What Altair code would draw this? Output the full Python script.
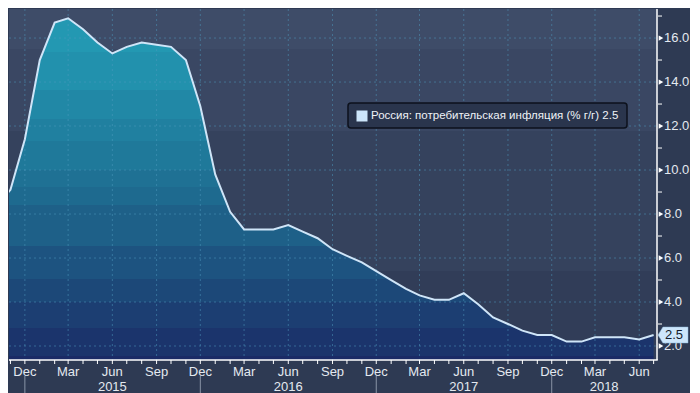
import altair as alt
import pandas as pd

# ---------------- data ----------------
months = [d.strftime("%Y-%m-%dT00:00:00") for d in pd.date_range("2014-10-01", "2018-07-01", freq="MS")]
cpi = [8.3, 9.1, 11.4,
       15.0, 16.7, 16.9, 16.4, 15.8, 15.3, 15.6, 15.8, 15.7, 15.6, 15.0, 12.9,
       9.8, 8.1, 7.3, 7.3, 7.3, 7.5, 7.2, 6.9, 6.4, 6.1, 5.8, 5.4,
       5.0, 4.6, 4.3, 4.1, 4.1, 4.4, 3.9, 3.3, 3.0, 2.7, 2.5, 2.5,
       2.2, 2.2, 2.4, 2.4, 2.4, 2.3, 2.5]
series_name = "Россия: потребительская инфляция (% г/г)"
y_ticks = [2, 4, 6, 8, 10, 12, 14, 16]
y_minor = [3, 5, 7, 9, 11, 13, 15, 17]
tick_months = months[1:]
quarter_dates = [d.strftime("%Y-%m-%dT00:00:00") for d in pd.date_range("2014-12-01", "2018-06-01", freq="3MS")]
year_dividers = ["2014-12-01T00:00:00", "2015-12-01T00:00:00", "2016-12-01T00:00:00", "2017-12-01T00:00:00"]
year_labels = ["2015", "2016", "2017", "2018"]
year_label_pos = ["2015-06-01T00:00:00", "2016-06-01T00:00:00", "2017-06-01T00:00:00", "2018-03-20T00:00:00"]

df = pd.DataFrame({"date": months, "cpi": cpi})
last = pd.DataFrame({"date": [months[-1]], "cpi": [cpi[-1]], "txt": [f"{cpi[-1]:.1f}"]})

# ---------------- layout / style ----------------
W, H = 648, 351
FONT = "Liberation Sans"
BG = "#2e3a53"
LINE = "#cfe5f8"
TXT = "#e4e9f0"

xscale = alt.Scale(domain=[alt.DateTime(year=2014, month=10, date=29),
                           alt.DateTime(year=2018, month=7, date=8)])
yscale = alt.Scale(domain=[1.364, 17.32], zero=False, nice=False)


def banded(edges, colors, top, bottom):
    stops = []
    span = bottom - top
    for i, c in enumerate(colors):
        a = min(1.0, max(0.0, (edges[i] - top) / span))
        b = min(1.0, max(0.0, (edges[i + 1] - top) / span))
        stops.append(alt.GradientStop(offset=a, color=c))
        stops.append(alt.GradientStop(offset=b, color=c))
    return alt.LinearGradient(gradient="linear", x1=0, x2=0, y1=0, y2=1, stops=stops)


bg_grad = banded([0, 40, 122, 262, 351],
                 ["#3e4c68", "#3a4763", "#35425d", "#313d58"], 0, 351)
area_edges = [9, 40, 75, 102, 122, 149, 164, 181, 219, 249, 270, 294, 320, 351]
area_cols = ["#2398b2", "#2291ad", "#2188a6", "#2080a0", "#1f799a", "#1f7194",
             "#1e6a8f", "#1e6088", "#1d5380", "#1c4878", "#1c3e72", "#1b346c", "#1a2a66"]
area_grad = banded(area_edges, area_cols, 9.2, 351)

one = pd.DataFrame({"k": [0]})
X = lambda f="date:T": alt.X(f, scale=xscale, axis=None)
Y = lambda f: alt.Y(f, scale=yscale, axis=None)

bg = alt.Chart(one).mark_rect(fill=bg_grad).encode(
    x=alt.value(0), x2=alt.value(W), y=alt.value(0), y2=alt.value(H))

area = alt.Chart(df).mark_area(fill=area_grad, clip=True).encode(
    x=X(), y=Y("cpi:Q"), y2=alt.value(H))

vgrid = alt.Chart(pd.DataFrame({"date": quarter_dates})).mark_rule(
    color="#4f9cc0", opacity=0.5, strokeDash=[2, 3], strokeWidth=1).encode(
    x=X(), y=alt.value(0), y2=alt.value(H))

hgrid = alt.Chart(pd.DataFrame({"v": y_ticks})).mark_rule(
    color="#4f9cc0", opacity=0.5, strokeDash=[2, 3], strokeWidth=1).encode(
    y=Y("v:Q"), x=alt.value(0), x2=alt.value(W))

line = alt.Chart(df).mark_line(color=LINE, strokeWidth=2, clip=True).encode(
    x=X(), y=Y("cpi:Q"))

# --- x axis (bottom) ---
x_domain = alt.Chart(one).mark_rule(color="white", strokeWidth=1.5).encode(
    x=alt.value(0), x2=alt.value(W + 0.75), y=alt.value(H))
x_ticks = alt.Chart(pd.DataFrame({"date": tick_months})).mark_rule(
    color="white", strokeWidth=1).encode(x=X(), y=alt.value(H), y2=alt.value(H + 4))
x_labels = alt.Chart(pd.DataFrame({"date": quarter_dates})).mark_text(
    font=FONT, fontSize=13, color=TXT, align="center", baseline="alphabetic").encode(
    x=X(), y=alt.value(367), text=alt.Text("date:T", format="%b"))

dividers = alt.Chart(pd.DataFrame({"date": year_dividers})).mark_rule(
    color="#8994a6", strokeWidth=1).encode(x=X(), y=alt.value(367), y2=alt.value(385))

years = alt.Chart(pd.DataFrame({"date": year_label_pos, "lab": year_labels})).mark_text(
    font=FONT, fontSize=13, color=TXT, align="center", baseline="alphabetic").encode(
    x=X(), y=alt.value(382), text="lab:N")

# --- y axis (right) ---
y_domain = alt.Chart(one).mark_rule(color="white", strokeWidth=1.5).encode(
    x=alt.value(W), y=alt.value(0), y2=alt.value(H))
minor = alt.Chart(pd.DataFrame({"v": y_minor})).mark_rule(color="white", strokeWidth=1).encode(
    y=Y("v:Q"), x=alt.value(W + 1), x2=alt.value(W + 5))
major = alt.Chart(pd.DataFrame({"v": y_ticks})).mark_point(
    shape="triangle-right", filled=True, size=28, color="white", opacity=1).encode(
    y=Y("v:Q"), x=alt.value(W + 4))
y_labels = alt.Chart(pd.DataFrame({"v": y_ticks})).mark_text(
    font=FONT, fontSize=13, color=TXT, align="left", baseline="middle").encode(
    y=Y("v:Q"), x=alt.value(W + 7), text=alt.Text("v:Q", format=".1f"))

tag = alt.Chart(last).mark_point(
    shape="M-1,0 L-0.67,-0.53 L1,-0.53 L1,0.53 L-0.67,0.53 Z",
    filled=True, size=900, color="#cde6fb", opacity=1,
    stroke="#8fb8dc", strokeWidth=0.5).encode(y=Y("cpi:Q"), x=alt.value(W + 16))

tag_text = alt.Chart(last).mark_text(
    font=FONT, fontSize=13, color="#141c2c", align="left", baseline="middle").encode(
    y=Y("cpi:Q"), x=alt.value(W + 8), text="txt:N")

# --- legend box ---
leg_box = alt.Chart(one).mark_rect(
    fill="#2a354d", stroke="#0c111c", strokeWidth=1.5, cornerRadius=3).encode(
    x=alt.value(339), x2=alt.value(618), y=alt.value(94), y2=alt.value(119))
leg_sym = alt.Chart(one).mark_square(size=121, color="#cde6fb", opacity=1).encode(
    x=alt.value(353), y=alt.value(107))
leg_txt = alt.Chart(pd.DataFrame({"t": [f"{series_name}  {cpi[-1]:.1f}"]})).mark_text(
    font=FONT, fontSize=11.5, color="#eef2f7", align="left", baseline="middle").encode(
    x=alt.value(362), y=alt.value(107), text="t:N")

chart = alt.layer(
    bg, area, vgrid, hgrid, line,
    x_domain, x_ticks, x_labels, dividers, years,
    y_domain, minor, major, y_labels,
    tag, tag_text, leg_box, leg_sym, leg_txt
).properties(
    width=W, height=H, padding=0
).configure(background=BG).configure_view(stroke=None)

chart.save("out.html", embed_options={"renderer": "svg", "actions": False})
